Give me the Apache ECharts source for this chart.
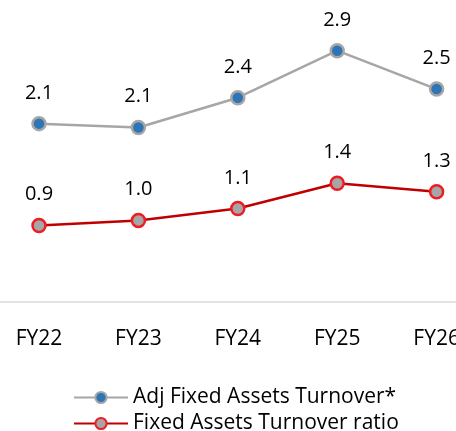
<!DOCTYPE html>
<html>
<head>
<meta charset="utf-8">
<script src="https://cdn.jsdelivr.net/npm/echarts@6/dist/echarts.min.js"></script>
<style>
  html, body { margin: 0; padding: 0; background: #fff; }
  #chart { width: 456px; height: 431px; }
</style>
</head>
<body>
<div id="chart"></div>
<script>
// data
var years = ['FY22', 'FY23', 'FY24', 'FY25', 'FY26']
var adjTurnover = [2.14, 2.10, 2.41, 2.90, 2.50]
var turnoverRatio = [0.90, 0.96, 1.10, 1.40, 1.30]
var seriesNames = ['Adj Fixed Assets Turnover*', 'Fixed Assets Turnover ratio']

var FONT = '"Open Sans", "Noto Sans", sans-serif'

var myChart = echarts.init(document.getElementById('chart'))

var labelStyle = {
  show: true,
  position: 'top',
  distance: 13,
  fontFamily: FONT,
  fontSize: 20,
  color: '#000',
  formatter: function (p) { return p.value.toFixed(1) }
}

var option = {
  animation: false,
  // grid runs past both edges so the first and last categories sit where the picture has them
  grid: { left: -10.7, width: 497, top: 19, height: 288, outerBoundsMode: 'none', containLabel: false },
  legend: {
    orient: 'vertical',
    left: 68,
    top: 382,
    height: 60,
    itemWidth: 54,
    itemHeight: 14,
    itemGap: 5,
    textStyle: { fontFamily: FONT, fontSize: 21, color: '#000' },
    data: seriesNames
  },
  xAxis: {
    type: 'category',
    data: years,
    axisLine: { lineStyle: { color: '#d9d9d9', width: 1.5 } },
    axisTick: { show: false },
    axisLabel: { fontFamily: FONT, fontSize: 21, color: '#000', margin: 22 }
  },
  yAxis: [
    { type: 'value', min: 0.23, max: 3.23, show: false, splitLine: { show: false } },
    { type: 'value', min: -0.066, max: 3.346, show: false, splitLine: { show: false } }
  ],
  series: [
    {
      name: seriesNames[0],
      type: 'line',
      yAxisIndex: 0,
      data: adjTurnover,
      symbol: 'circle',
      symbolSize: 13,
      lineStyle: { color: '#a6a6a6', width: 2.5 },
      itemStyle: { color: '#2e75b6', borderColor: '#a6a6a6', borderWidth: 2.5 },
      label: labelStyle
    },
    {
      name: seriesNames[1],
      type: 'line',
      yAxisIndex: 1,
      data: turnoverRatio,
      symbol: 'circle',
      symbolSize: 13,
      lineStyle: { color: '#c00000', width: 2.5 },
      itemStyle: { color: '#a6a6a6', borderColor: '#ee1c25', borderWidth: 2.5 },
      label: labelStyle
    }
  ]
}
myChart.setOption(option)
</script>
</body>
</html>
